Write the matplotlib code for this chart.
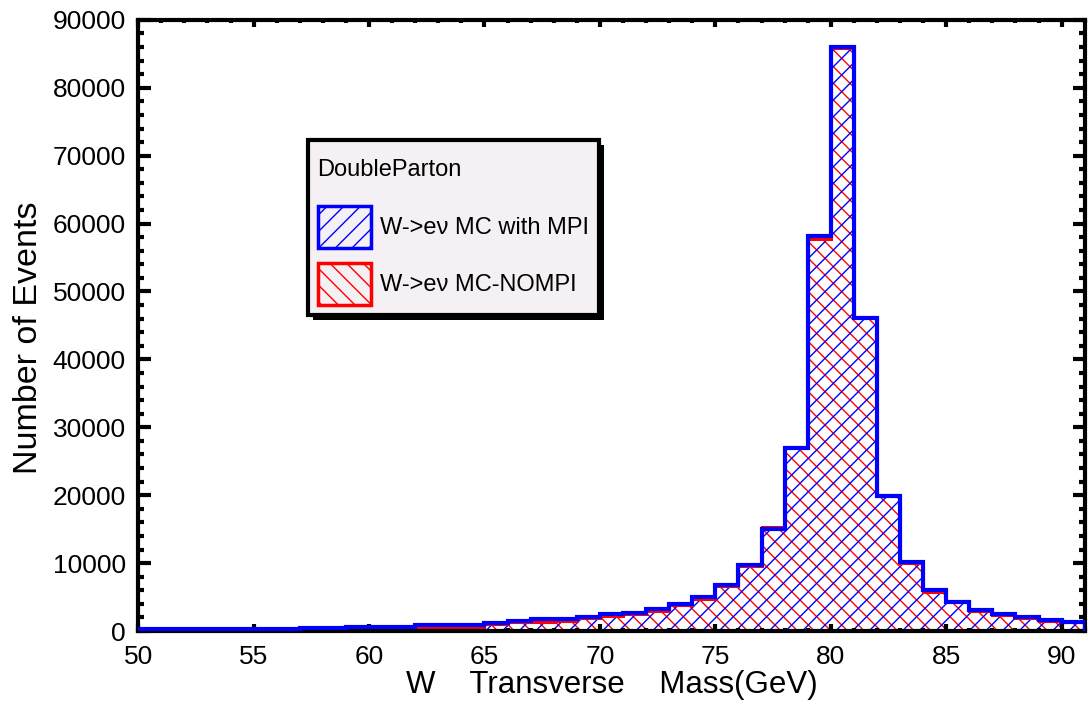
import numpy as np
import matplotlib
matplotlib.use('Agg')
from matplotlib import pyplot as plt
from matplotlib.patches import Rectangle
from matplotlib.ticker import MultipleLocator

plt.rcParams['font.family'] = ['Liberation Sans', 'DejaVu Sans']
plt.rcParams['hatch.linewidth'] = 1.0

# bin edges (GeV) and event counts per 1 GeV bin
edges = np.arange(50, 92, 1)
counts_mpi = [300, 300, 310, 320, 330, 340, 350, 370, 390, 550,
              600, 650, 850, 900, 950, 1200, 1500, 1750, 1800, 2000,
              2450, 2700, 3200, 4000, 5000, 6800, 9700, 15000, 26900, 58100,
              86000, 46100, 19900, 10100, 6000, 4200, 3100, 2450, 2000, 1600,
              1400]
counts_nompi = [250, 250, 260, 270, 280, 290, 300, 310, 330, 450,
                500, 550, 500, 550, 600, 1000, 1300, 1300, 1500, 1900,
                2200, 2500, 3000, 3800, 4700, 6600, 9500, 15300, 27100, 57700,
                85800, 46300, 20100, 10000, 5800, 4400, 3000, 2300, 1900, 1500,
                1300]

label_mpi = 'W->e\u03bd MC with MPI'
label_nompi = 'W->e\u03bd MC-NOMPI'

fig = plt.figure(figsize=(10.88, 7.09), dpi=100)
ax = fig.add_axes([0.127, 0.110, 0.870, 0.862])

# hatched fills (hatch takes the edge colour, so no outline here)
ax.stairs(counts_nompi, edges, fill=True, facecolor='none', edgecolor='red',
          hatch='\\\\', linewidth=0, zorder=1)
ax.stairs(counts_mpi, edges, fill=True, facecolor='none', edgecolor='blue',
          hatch='//', linewidth=0, zorder=1)
# step outlines
ax.stairs(counts_nompi, edges, baseline=0, color='red', linewidth=2.2, zorder=2)
ax.stairs(counts_mpi, edges, baseline=0, color='blue', linewidth=3, zorder=3)

ax.set_xlim(50, 91)
ax.set_ylim(0, 90000)
ax.xaxis.set_major_locator(MultipleLocator(5))
ax.xaxis.set_minor_locator(MultipleLocator(1))
ax.yaxis.set_major_locator(MultipleLocator(10000))
ax.yaxis.set_minor_locator(MultipleLocator(2000))
ax.tick_params(which='both', direction='in', top=True, right=True,
               width=3, labelsize=19, colors='black')
ax.tick_params(axis='x', which='major', length=5, pad=10)
ax.tick_params(axis='x', which='minor', length=2.5)
ax.tick_params(axis='y', which='major', length=9, pad=9)
ax.tick_params(axis='y', which='minor', length=4.5)
for sp in ax.spines.values():
    sp.set_linewidth(3)

ax.set_xlabel('W    Transverse    Mass(GeV)', fontsize=22.5, labelpad=1)
ax.set_ylabel('Number of Events', fontsize=24.5)
ax.yaxis.set_label_coords(-0.099, 0.48)

# legend with hatched boxes
h_mpi = Rectangle((0, 0), 1, 1, facecolor='none', edgecolor='blue',
                  hatch='//', linewidth=2.5)
h_nompi = Rectangle((0, 0), 1, 1, facecolor='none', edgecolor='red',
                    hatch='\\\\', linewidth=2.5)
leg = ax.legend([h_mpi, h_nompi], [label_mpi, label_nompi],
                title='\nDoubleParton\n', alignment='left',
                loc='upper left', bbox_to_anchor=(0.1795, 0.8036),
                borderaxespad=0, fontsize=17, title_fontsize=17,
                handlelength=2.25, handleheight=2.36, labelspacing=0.64,
                handletextpad=0.4, borderpad=0.4, fancybox=False,
                framealpha=1, facecolor='#f5f0f3', edgecolor='black')
leg.get_title().set_linespacing(0.28)
leg.get_frame().set_linewidth(3)
leg.set_zorder(10)

# solid black drop shadow behind the legend
fig.canvas.draw()
bb = leg.get_frame().get_window_extent().transformed(fig.transFigure.inverted())
dx, dy = 5 / fig.bbox.width, 5 / fig.bbox.height
shadow = Rectangle((bb.x0 + dx, bb.y0 - dy), bb.width, bb.height,
                   transform=fig.transFigure, facecolor='black',
                   edgecolor='none', zorder=9, clip_on=False)
ax.add_patch(shadow)

fig.savefig('out.png', dpi=100)
